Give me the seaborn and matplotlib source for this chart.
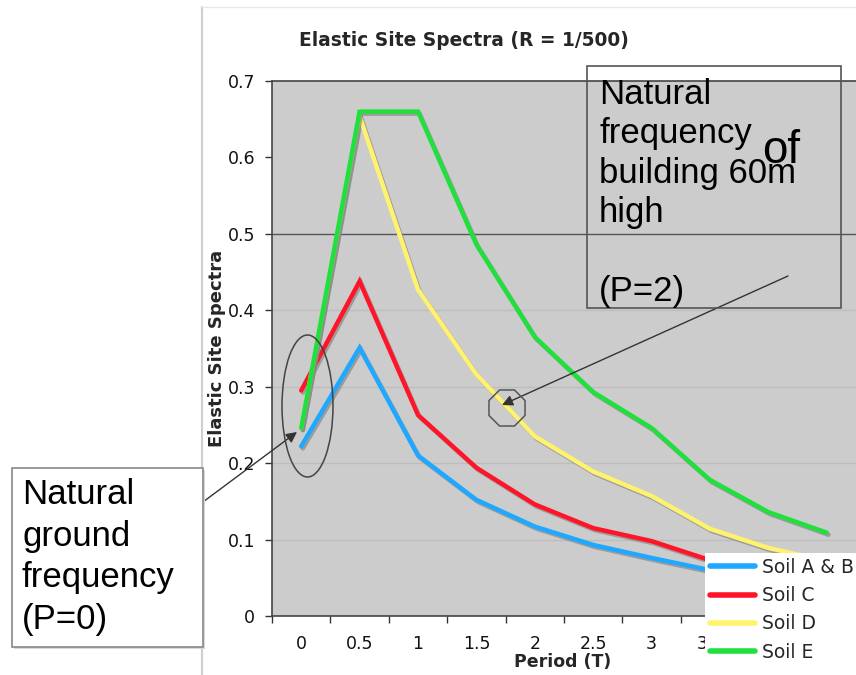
import numpy as np
import pandas as pd
import seaborn as sns
import matplotlib
matplotlib.use("Agg")
import matplotlib.pyplot as plt
import matplotlib.patheffects as pe
from matplotlib.patches import Rectangle, Ellipse, RegularPolygon
from matplotlib.transforms import IdentityTransform

# ---- data ----
periods = ["0", "0.5", "1", "1.5", "2", "2.5", "3", "3.5", "4", "4.5"]
soil_ab = [0.222, 0.351, 0.210, 0.152, 0.117, 0.093, 0.076, 0.060, 0.048, 0.040]
soil_c = [0.295, 0.438, 0.263, 0.194, 0.146, 0.115, 0.098, 0.073, 0.060, 0.050]
soil_d = [0.246, 0.654, 0.427, 0.316, 0.235, 0.189, 0.157, 0.114, 0.089, 0.072]
soil_e = [0.246, 0.660, 0.660, 0.486, 0.365, 0.293, 0.246, 0.178, 0.136, 0.109]
series_names = ["Soil A & B", "Soil C", "Soil D", "Soil E"]
y_ticks = [0, 0.1, 0.2, 0.3, 0.4, 0.5, 0.6, 0.7]

colors = ["#1ea8ff", "#ff1428", "#fff36e", "#1fe03c"]

rows = []
for name, vals in zip(series_names, [soil_ab, soil_c, soil_d, soil_e]):
    for i, (p, v) in enumerate(zip(periods, vals)):
        rows.append({"idx": i, "period": p, "value": v, "soil": name})
df = pd.DataFrame(rows)

W, H = 856, 675
sns.set_theme(style="white")
plt.rcParams["font.family"] = ["DejaVu Sans"]
fig = plt.figure(figsize=(W / 100, H / 100), dpi=100)
fig.patch.set_facecolor("white")

AX_L, AX_T, AX_R, AX_B = 272, 81, 856, 616

def px(x0, y0, x1, y1):
    return [x0 / W, 1 - y1 / H, (x1 - x0) / W, (y1 - y0) / H]

ax = fig.add_axes(px(AX_L, AX_T, AX_R, AX_B))
ax.set_facecolor("#cccccc")

sns.lineplot(data=df, x="idx", y="value", hue="soil", hue_order=series_names,
             palette=colors, linewidth=3.2, ax=ax, sort=False)

handles, labels = ax.get_legend_handles_labels()
ax.get_legend().remove()
for ln in ax.lines:
    ln.set_path_effects([pe.SimpleLineShadow(offset=(1.2, -1.5), shadow_color="#888888", alpha=0.7),
                         pe.Normal()])
    ln.set_solid_joinstyle("miter")

ax.set_xlim(-0.5, 9.5)
ax.set_ylim(0, 0.7)
ax.set_xticks(range(len(periods)))
ax.set_xticklabels(periods)
ax.set_xticks(np.arange(-0.5, 9.5, 1.0), minor=True)
ax.tick_params(axis="x", which="major", length=0, pad=14, labelsize=12.5, colors="#111111")
ax.tick_params(axis="x", which="minor", length=5, width=1, color="#333333", direction="out", bottom=True)
ax.set_yticks(y_ticks)
ax.set_yticklabels([f"{t:g}" for t in y_ticks])
ax.tick_params(axis="y", length=5, width=1, color="#333333", direction="out", left=True,
               pad=7, labelsize=12.5, colors="#111111")

# gridlines
for g in [0.1, 0.2, 0.3, 0.4]:
    ax.axhline(g, color="#bdbdbd", lw=1, zorder=0.5)
ax.axhline(0.5, color="#555555", lw=1, zorder=0.5)

for s in ["left", "bottom", "top"]:
    ax.spines[s].set_visible(True)
    ax.spines[s].set_color("#444444")
    ax.spines[s].set_linewidth(1.2)
ax.spines["right"].set_visible(False)

axw, axh = AX_R - AX_L, AX_B - AX_T
ax.set_xlabel("Period (T)", fontsize=12.5, fontweight="bold", va="center")
ax.xaxis.set_label_coords((563 - AX_L) / axw, -(662 - AX_B) / axh)
ax.set_ylabel("Elastic Site Spectra", fontsize=13, fontweight="bold", va="center")
ax.yaxis.set_label_coords(-(AX_L - 217) / axw, (AX_B - 348) / axh)
ax.set_title("Elastic Site Spectra (R = 1/500)", fontsize=13.4, fontweight="bold",
             x=(464 - AX_L) / axw, y=(AX_B - 40) / axh, va="center", ha="center", pad=0)

# chart frame lines (image border)
fig.add_artist(plt.Line2D([202 / W, 202 / W], [0, 1 - 7 / H], color="#cfcfcf", lw=1.5))
fig.add_artist(plt.Line2D([202 / W, 1], [1 - 7 / H, 1 - 7 / H], color="#e8e8e8", lw=1))

# legend
leg = fig.legend(handles, labels, loc="upper left", bbox_to_anchor=(705 / W, 1 - 553 / H),
                 frameon=True, fancybox=False, facecolor="white", edgecolor="none", framealpha=1,
                 fontsize=13.5, handlelength=2.4, handletextpad=0.4, labelspacing=0.5,
                 borderpad=0.25, borderaxespad=0)
for lh in leg.get_lines():
    lh.set_linewidth(4)
    lh.set_path_effects([])

ident = IdentityTransform()

# right annotation box
fig.add_artist(Rectangle((587, H - 308), 841 - 587, 308 - 66, fill=False, edgecolor="#555555",
                         lw=1.2, transform=ident))
fig.text(599, H - 78, "Natural\nfrequency\nbuilding 60m\nhigh\n\n(P=2)", transform=ident,
         family="Liberation Sans", fontsize=25, va="top", ha="left", linespacing=1.245, color="black")
fig.text(762, H - 163, "of", transform=ident, family="Liberation Sans", fontsize=33,
         va="baseline", ha="left", color="black")

# left annotation box
fig.add_artist(Rectangle((14, H - 649), 191, 179, facecolor="#d9d9d9", edgecolor="none",
                         transform=ident, zorder=2))
fig.add_artist(Rectangle((12, H - 647), 191, 179, facecolor="white", edgecolor="#888888",
                         lw=1.2, transform=ident, zorder=3))
fig.text(22, H - 478, "Natural\nground\nfrequency\n(P=0)", transform=ident,
         family="Liberation Sans", fontsize=25, va="top", ha="left", linespacing=1.33,
         color="black", zorder=4)

# ellipse and octagon
fig.add_artist(Ellipse((307.5, H - 406), 51, 142, fill=False, edgecolor="#444444", lw=1.1,
                       transform=ident, zorder=5))
fig.add_artist(RegularPolygon((507, H - 408), 8, radius=19.5, orientation=np.pi / 8, fill=False,
                              edgecolor="#555555", lw=1.1, transform=ident, zorder=5))

# arrows
arrow_kw = dict(arrowstyle="-|>", color="#333333", lw=1.0, mutation_scale=16, shrinkA=0, shrinkB=0)
ax.annotate("", xy=(297, H - 432), xycoords="figure pixels", xytext=(168, H - 528),
            textcoords="figure pixels", arrowprops=arrow_kw, annotation_clip=False, zorder=6)
ax.annotate("", xy=(502, H - 405), xycoords="figure pixels", xytext=(788, H - 276),
            textcoords="figure pixels", arrowprops=arrow_kw, annotation_clip=False, zorder=6)

fig.savefig("out.png", dpi=100)
